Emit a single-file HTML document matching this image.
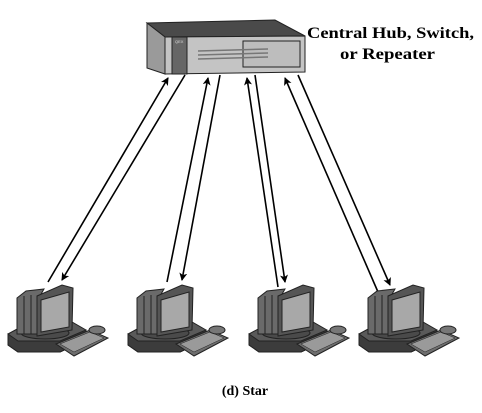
<!DOCTYPE html>
<html><head><meta charset="utf-8"><style>
html,body{margin:0;padding:0;background:#fff;}
svg{display:block;}
</style></head><body>
<svg width="482" height="413" viewBox="0 0 482 413" xmlns="http://www.w3.org/2000/svg">
<defs>
<marker id="ah" markerWidth="8" markerHeight="8" refX="7" refY="4" orient="auto" markerUnits="userSpaceOnUse">
<path d="M0,0 L8,4 L0,8 L2,4 Z" fill="#000"/>
</marker>
<g id="pc" stroke="#222" stroke-width="1">
  <!-- base -->
  <path d="M8,334 L30,322 L72,322 L86,330 L86,340 L60,352 L18,352 L8,345 Z" fill="#5a5a5a"/>
  <path d="M8,334 L18,341 L60,341 L86,330 L86,340 L60,352 L18,352 L8,345 Z" fill="#3c3c3c"/>
  <ellipse cx="45" cy="333" rx="24" ry="6" fill="#4a4a4a"/>
  <!-- monitor back -->
  <path d="M17,298 L26,291 L44,289 L40,296 L37,334 L17,334 Z" fill="#6a6a6a"/>
  <line x1="24" y1="296" x2="24" y2="334"/>
  <line x1="31" y1="295" x2="31" y2="334"/>
  <path d="M37,296 L62,285 L73,288 L72,330 L37,336 Z" fill="#555"/>
  <path d="M41,300 L69,292 L69,327 L41,332 Z" fill="#a8a8a8"/>
  <!-- keyboard -->
  <path d="M56,344 L90,330 L108,338 L74,356 Z" fill="#6e6e6e"/>
  <path d="M60,344 L90,332 L104,338 L74,352 Z" fill="#9a9a9a" stroke-width="0.5"/>
  <ellipse cx="97" cy="330" rx="8" ry="4" fill="#777"/>
</g>
</defs>

<!-- hub -->
<g stroke="#222" stroke-width="1">
  <path d="M147,23 L275,20 L305,36 L165,37 Z" fill="#4a4a4a"/>
  <path d="M147,23 L165,37 L165,74 L147,68 Z" fill="#9a9a9a"/>
  <path d="M165,37 L305,36 L305,72 L165,74 Z" fill="#c4c4c4"/>
  <rect x="172" y="37" width="15" height="37" fill="#666"/>
  <rect x="243" y="41" width="57" height="26" fill="#bdbdbd"/>
  <line x1="198" y1="51" x2="268" y2="49" stroke="#777" stroke-width="1.5"/>
  <line x1="198" y1="55" x2="268" y2="53" stroke="#777" stroke-width="1.5"/>
  <line x1="198" y1="59" x2="268" y2="57" stroke="#777" stroke-width="1.5"/>
</g>
<text x="175" y="43" font-family="Liberation Sans, sans-serif" font-size="4" fill="#ddd">QEX</text>

<!-- connectors -->
<g stroke="#000" stroke-width="1.6" fill="none">
  <line x1="48" y1="282" x2="168" y2="78" marker-end="url(#ah)"/>
  <line x1="185" y1="75" x2="62" y2="280" marker-end="url(#ah)"/>
  <line x1="167" y1="282" x2="208" y2="78" marker-end="url(#ah)"/>
  <line x1="220" y1="75" x2="182" y2="280" marker-end="url(#ah)"/>
  <line x1="278" y1="287" x2="247" y2="78" marker-end="url(#ah)"/>
  <line x1="255" y1="75" x2="285" y2="282" marker-end="url(#ah)"/>
  <line x1="378" y1="292" x2="285" y2="78" marker-end="url(#ah)"/>
  <line x1="298" y1="75" x2="390" y2="285" marker-end="url(#ah)"/>
</g>

<use href="#pc" x="0" y="0"/>
<use href="#pc" x="120" y="0"/>
<use href="#pc" x="241" y="0"/>
<use href="#pc" x="351" y="0"/>

<g font-family="Liberation Serif, serif" font-weight="bold" fill="#000">
  <text x="307" y="38" font-size="16" textLength="167" lengthAdjust="spacingAndGlyphs">Central Hub, Switch,</text>
  <text x="340" y="59" font-size="16" textLength="95" lengthAdjust="spacingAndGlyphs">or Repeater</text>
  <text x="245" y="395" font-size="14" text-anchor="middle">(d) Star</text>
</g>
</svg>
</body></html>
